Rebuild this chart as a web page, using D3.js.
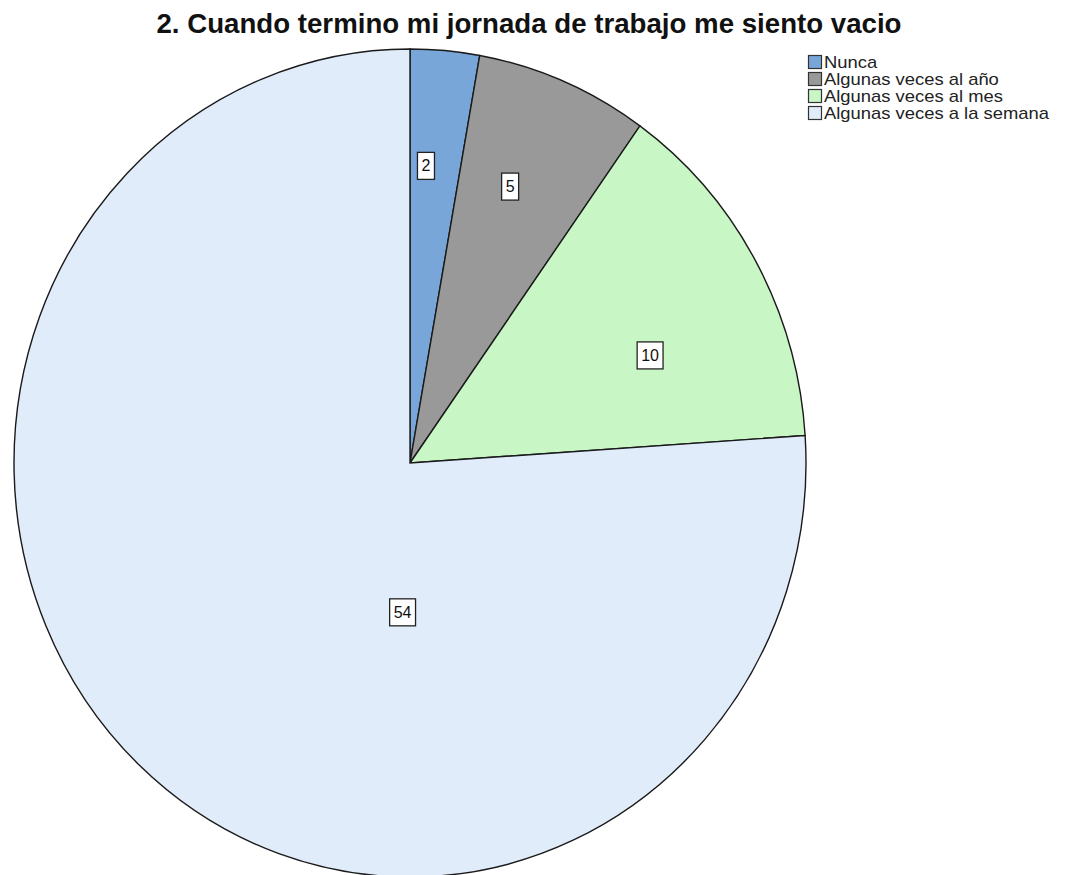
<!DOCTYPE html>
<html><head><meta charset="utf-8">
<script src="https://d3js.org/d3.v7.min.js"></script>
<style>body{margin:0;background:#fff}</style>
</head><body>
<svg id="c" width="1067" height="875"></svg>
<script>
const title = "2. Cuando termino mi jornada de trabajo me siento vacio";
const categories = ["Nunca", "Algunas veces al año", "Algunas veces al mes", "Algunas veces a la semana"];
const values = [2, 5, 10, 54];
const colors = ["#79a6d9", "#999999", "#c8f7c5", "#e0ecfa"];
// label placement: angle (deg, clockwise from top) and radius as fraction of pie radius
const labelAngles = [3.2, 20.7, 66.7, 183];
const labelRadii = [0.72, 0.715, 0.66, 0.36];

const svg = d3.select("#c");
const cx = 410, cy = 463, rx = 396, ry = 414;

svg.append("text").attr("x", 529).attr("y", 33).attr("text-anchor", "middle")
  .attr("font-family", "Liberation Sans, Arial").attr("font-weight", "bold")
  .attr("font-size", 27).attr("fill", "#111")
  .attr("textLength", 745).attr("lengthAdjust", "spacingAndGlyphs").text(title);

const pie = d3.pie().sort(null).value(d => d)(values);
const arc = d3.arc().innerRadius(0).outerRadius(rx);
const g = svg.append("g").attr("transform", `translate(${cx},${cy}) scale(1,${ry/rx})`);
g.selectAll("path").data(pie).join("path")
  .attr("d", arc).attr("fill", (d,i) => colors[i])
  .attr("stroke", "#1a1a1a").attr("stroke-width", 1.4).attr("vector-effect", "non-scaling-stroke");

const lg = svg.append("g");
pie.forEach((d, i) => {
  const a = labelAngles[i] * Math.PI / 180, r = labelRadii[i] * rx;
  const x = cx + r * Math.sin(a), y = cy - r * Math.cos(a) * ry / rx;
  const t = lg.append("text").attr("x", x).attr("y", y + 6).attr("text-anchor", "middle")
    .attr("font-family", "Liberation Sans, Arial").attr("font-size", 16).attr("fill", "#111").text(values[i]);
  const bb = t.node().getBBox();
  lg.insert("rect", "text").attr("x", bb.x - 4).attr("y", y - 13).attr("width", bb.width + 8).attr("height", 27)
    .attr("fill", "#fff").attr("stroke", "#222").attr("stroke-width", 1.3);
});

const leg = svg.append("g").attr("transform", "translate(808,55)");
categories.forEach((c, i) => {
  const row = leg.append("g").attr("transform", `translate(0,${i * 17})`);
  row.append("rect").attr("x", 0.5).attr("y", 0.5).attr("width", 13).attr("height", 13)
    .attr("fill", colors[i]).attr("stroke", "#333").attr("stroke-width", 1.2);
  row.append("text").attr("x", 0).attr("y", 0)
    .attr("transform", "translate(16,12.5) scale(1.15,1)")
    .attr("font-family", "Liberation Sans, Arial")
    .attr("font-size", 16).attr("fill", "#222").text(c);
});
</script>
</body></html>
